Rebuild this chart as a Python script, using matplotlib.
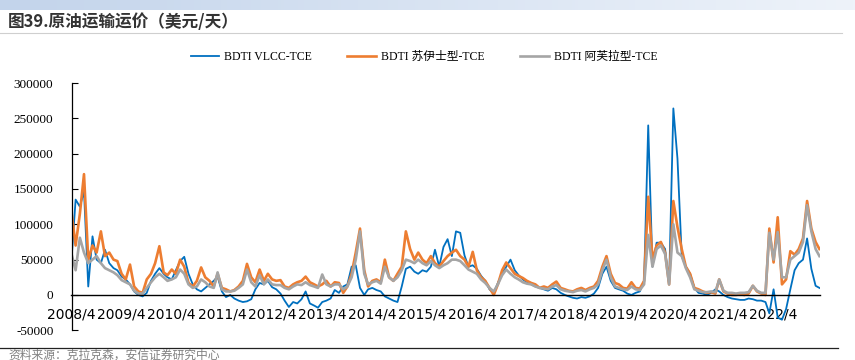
import numpy as np
import pandas as pd
import matplotlib
matplotlib.use("Agg")
import matplotlib.pyplot as plt
from matplotlib.lines import Line2D

# monthly values, thousand USD/day, 2008/4 .. 2023/3
months = pd.date_range("2008-04-01", "2023-03-01", freq="MS")

vlcc = [
    50, 135, 125, 147, 12, 83, 50, 45, 64,                      # 2008
    45, 38, 35, 26, 22, 15, 5, 0, -2, 3, 20, 30,               # 2009
    38, 30, 25, 22, 35, 48, 54, 30, 15, 8, 5, 10,              # 2010
    15, 20, 26, 5, -3, 0, -5, -8, -10, -9, -6, 8,              # 2011
    17, 15, 20, 11, 8, 2, -8, -17, -10, -12, -6, 5,            # 2012
    -12, -15, -18, -10, -8, -5, 7, 3, 12, 15, 40, 42,          # 2013
    10, 0, 8, 10, 7, 5, -2, -5, -8, -10, 12, 37,               # 2014
    40, 33, 30, 35, 33, 40, 64, 40, 68, 79, 55, 90,            # 2015
    88, 56, 40, 42, 37, 27, 20, 8, 3, 17, 30, 40,              # 2016
    50, 35, 28, 22, 18, 15, 12, 10, 8, 6, 10, 8,               # 2017
    3, 0, -2, -4, -5, -3, -4, -2, 2, 10, 30, 40,               # 2018
    20, 10, 8, 6, 2, 0, 3, 5, 20, 240, 40, 74,                 # 2019
    74, 65, 15, 264, 193, 55, 40, 30, 10, 3, 2, 0,             # 2020
    3, 8, 5, 0, -3, -5, -6, -7, -7, -5, -6, -8,                # 2021
    -8, -10, -26, 8, -32, -35, -20, 8, 35, 45, 50, 80,         # 2022
    37, 13, 10,                                                # 2023
]

suezmax = [
    117, 70, 115, 171, 50, 70, 60, 90, 55,                     # 2008
    60, 50, 48, 30, 22, 43, 12, 5, 3, 22, 30, 45,              # 2009
    69, 32, 28, 36, 30, 50, 40, 17, 12, 20, 39, 25,            # 2010
    20, 12, 30, 10, 8, 5, 7, 12, 20, 44, 25, 18,               # 2011
    36, 20, 30, 22, 20, 21, 12, 10, 15, 18, 20, 26,            # 2012
    18, 15, 12, 15, 20, 12, 18, 17, 3, 12, 30, 60,             # 2013
    94, 35, 12, 20, 22, 18, 50, 25, 20, 30, 40, 90,            # 2014
    65, 50, 60, 50, 45, 55, 45, 40, 48, 55, 60, 64,            # 2015
    55, 50, 40, 61, 35, 25, 20, 10, 0, 15, 35, 46,             # 2016
    38, 30, 27, 24, 20, 17, 15, 10, 12, 10, 15, 19,            # 2017
    10, 8, 6, 5, 8, 10, 7, 10, 12, 20, 40, 55,                 # 2018
    30, 17, 15, 10, 9, 18, 10, 9, 20, 139, 50, 70,             # 2019
    75, 60, 15, 133, 96, 65, 40, 30, 10, 8, 5, 3,              # 2020
    4, 2, 22, 5, 2, 0, 0, 1, 0, 2, 13, 5,                      # 2021
    2, 0, 94, 46, 110, 15, 22, 62, 57, 65, 80, 133,            # 2022
    94, 75, 65,                                                # 2023
]

aframax = [
    58, 35, 81, 60, 45, 50, 55, 45, 38,                        # 2008
    35, 32, 28, 21, 18, 15, 6, 2, 2, 10, 18, 25,               # 2009
    30, 25, 20, 22, 25, 36, 30, 15, 10, 12, 22, 18,            # 2010
    12, 10, 32, 8, 5, 5, 6, 10, 15, 36, 18, 12,                # 2011
    28, 15, 22, 15, 14, 14, 10, 8, 12, 15, 14, 18,             # 2012
    14, 12, 10, 29, 15, 12, 15, 15, 8, 12, 25, 50,             # 2013
    90, 30, 15, 18, 20, 16, 40, 25, 20, 25, 35, 50,            # 2014
    48, 45, 50, 45, 42, 48, 42, 38, 42, 45, 50, 50,            # 2015
    48, 42, 36, 33, 30, 22, 17, 10, 5, 15, 28, 36,             # 2016
    30, 25, 22, 18, 16, 15, 12, 10, 9, 8, 12, 14,              # 2017
    8, 6, 5, 4, 6, 7, 5, 8, 10, 15, 35, 50,                    # 2018
    25, 12, 10, 8, 7, 12, 8, 7, 15, 85, 40, 65,                # 2019
    70, 58, 15, 100, 60, 55, 38, 25, 8, 6, 4, 4,               # 2020
    5, 4, 22, 6, 3, 3, 2, 3, 3, 4, 13, 6,                      # 2021
    3, 3, 88, 50, 89, 25, 25, 50, 55, 60, 75, 127,             # 2022
    90, 65, 55,                                                # 2023
]

series_names = ["BDTI VLCC-TCE", "BDTI 苏伊士型-TCE", "BDTI 阿芙拉型-TCE"]
series_colors = ["#0070C0", "#ED7D31", "#A5A5A5"]
series_widths = [1.3, 1.9, 1.9]

y_ticks = list(range(-50000, 300001, 50000))
x_tick_years = list(range(2008, 2023))

serif = ["Liberation Serif", "Noto Sans CJK SC"]
cjk = ["Noto Sans CJK SC", "DejaVu Sans"]

fig = plt.figure(figsize=(8.55, 3.6), dpi=100)

# banner gradient at the very top
band = fig.add_axes([0, 1 - 10 / 360, 1, 10 / 360])
grad = np.linspace(0, 1, 256).reshape(1, -1)
band.imshow(grad, aspect="auto", cmap=matplotlib.colors.LinearSegmentedColormap.from_list(
    "band", ["#C3D4EB", "#EEF3FA"]))
band.set_axis_off()

fig.text(8 / 855, 1 - 22 / 360, "图39.原油运输运价（美元/天）", family=cjk,
         fontsize=12, fontweight="bold", color="#333333", va="center", ha="left")
fig.add_artist(Line2D([0, 0.985], [1 - 33 / 360] * 2, color="#CFCFCF", lw=0.8))

ax = fig.add_axes([71.5 / 855, 1 - 330.3 / 360, (820 - 71.5) / 855, (330.3 - 83) / 360])

handles = []
for vals, name, color, lw in zip([vlcc, suezmax, aframax], series_names, series_colors, series_widths):
    line, = ax.plot(months, np.array(vals) * 1000, color=color, lw=lw, label=name,
                    solid_joinstyle="round")
    handles.append(line)

ax.set_ylim(-50000, 300000)
ax.set_yticks(y_ticks)
ax.set_yticklabels([str(v) for v in y_ticks], family=serif, fontsize=9.5)
ax.set_xlim(pd.Timestamp("2008-04-01"), pd.Timestamp("2023-03-05"))
xt = [pd.Timestamp(f"{y}-04-01") for y in x_tick_years]
ax.set_xticks(xt)
ax.set_xticklabels([f"{d.year}/{d.month}" for d in xt], family=serif, fontsize=9.2)

for s in ["top", "right"]:
    ax.spines[s].set_visible(False)
ax.spines["bottom"].set_position(("data", 0))
ax.spines["bottom"].set_color("black")
ax.spines["bottom"].set_linewidth(1.0)
ax.spines["left"].set_linewidth(0.9)
ax.tick_params(axis="x", length=0, pad=9)
ax.tick_params(axis="y", direction="in", length=4, pad=13)
ax.patch.set_alpha(0)

fig.legend(handles=handles, loc="center", bbox_to_anchor=(424 / 855, 1 - 57 / 360), ncol=3,
           frameon=False, prop={"family": serif, "size": 8.5}, handlelength=2.4,
           handletextpad=0.45, columnspacing=3.0)

fig.add_artist(Line2D([0, 838 / 855], [1 - 348 / 360] * 2, color="#222222", lw=0.9))
fig.text(8 / 855, 1 - 355 / 360, "资料来源：克拉克森，安信证券研究中心", family=cjk,
         fontsize=8.5, color="#808080", va="center", ha="left")

fig.savefig("out.png", dpi=100)
